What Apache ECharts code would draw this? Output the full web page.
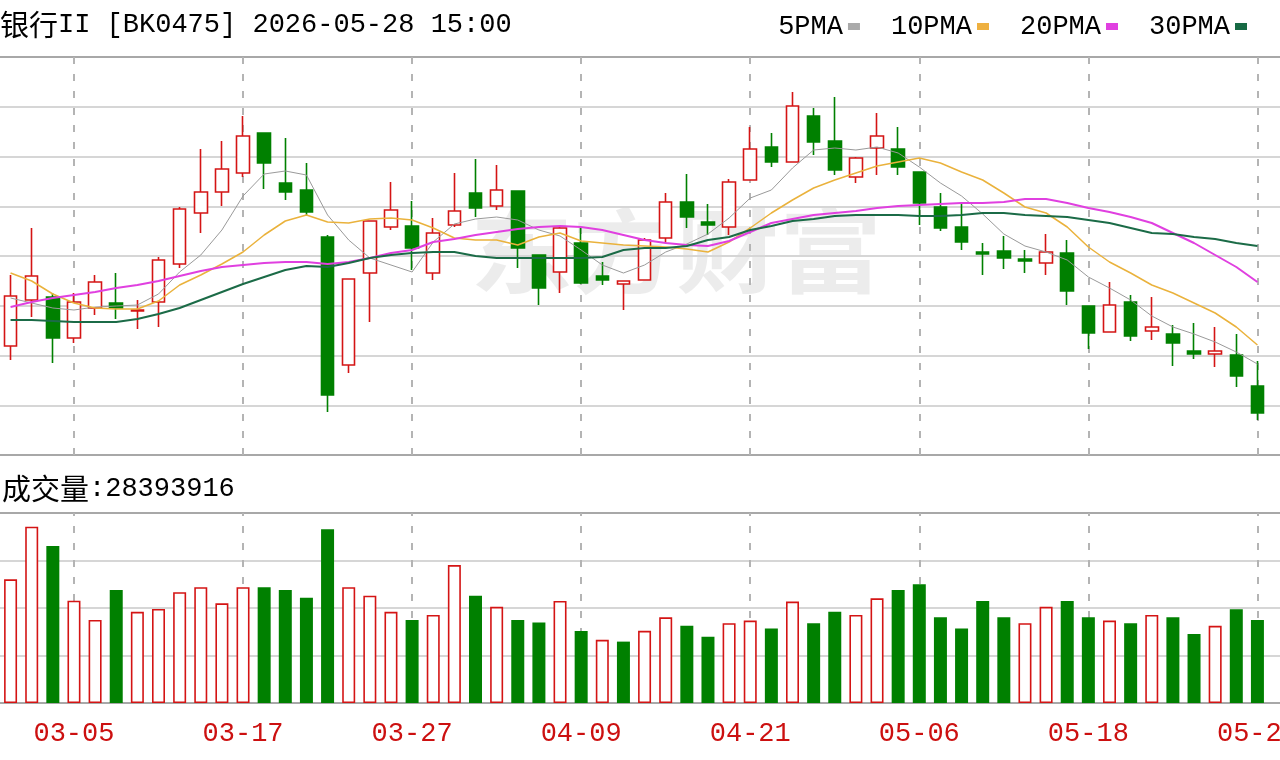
<!DOCTYPE html>
<html><head><meta charset="utf-8">
<script src="https://cdn.jsdelivr.net/npm/echarts@6/dist/echarts.min.js"></script>
<style>html,body{margin:0;padding:0;background:#fff}#c{width:1280px;height:760px}</style>
</head><body><div id="c"></div><script>
const dates = ['03-02','03-03','03-04','03-05','03-06','03-09','03-10','03-11','03-12','03-13',
'03-16','03-17','03-18','03-19','03-20','03-23','03-24','03-25','03-26','03-27',
'03-30','03-31','04-01','04-02','04-03','04-07','04-08','04-09','04-10','04-13',
'04-14','04-15','04-16','04-17','04-20','04-21','04-22','04-23','04-24','04-27',
'04-28','04-29','04-30','05-06','05-07','05-08','05-11','05-12','05-13','05-14',
'05-15','05-18','05-19','05-20','05-21','05-22','05-25','05-26','05-27','05-28'];
const tickDates = ['03-05','03-17','03-27','04-09','04-21','05-06','05-18','05-28'];
const openP = [1421.8,1431.0,1431.6,1423.4,1429.4,1430.4,1428.8,1430.6,1438.2,1448.4,
1452.6,1456.4,1464.4,1454.4,1453.0,1443.6,1418.0,1436.4,1445.6,1445.8,
1436.4,1446.0,1452.4,1449.8,1452.8,1440.0,1436.6,1442.4,1435.8,1434.2,
1435.0,1443.4,1450.6,1446.6,1445.6,1455.0,1461.6,1458.6,1467.8,1462.8,
1455.6,1461.4,1461.2,1456.6,1449.6,1445.6,1440.6,1440.8,1439.2,1438.4,
1440.4,1429.8,1424.6,1430.6,1424.8,1424.2,1420.8,1420.2,1420.0,1413.8];
const closeP = [1431.8,1435.8,1423.4,1430.6,1434.6,1429.4,1429.0,1439.0,1449.2,1452.6,
1457.2,1463.8,1458.4,1452.6,1448.6,1412.0,1435.2,1446.8,1449.0,1441.4,
1444.4,1448.8,1449.4,1453.0,1441.4,1433.4,1445.4,1434.4,1435.0,1434.8,
1443.0,1450.6,1447.6,1446.0,1454.6,1461.2,1458.6,1469.8,1462.6,1457.0,
1459.4,1463.8,1457.6,1450.4,1445.4,1442.6,1440.2,1439.4,1438.8,1440.6,
1432.8,1424.4,1430.0,1423.8,1425.6,1422.4,1420.2,1420.8,1415.8,1408.4];
const lowP = [1419.0,1427.6,1418.4,1422.4,1428.0,1427.2,1425.2,1425.6,1437.4,1444.4,
1449.8,1455.6,1453.2,1451.0,1448.0,1408.6,1416.4,1426.6,1445.0,1437.0,
1435.0,1445.6,1447.6,1449.0,1437.4,1430.0,1432.4,1434.2,1434.0,1429.0,
1435.0,1442.4,1445.4,1444.0,1444.0,1455.0,1457.6,1458.6,1460.0,1456.0,
1454.4,1456.0,1456.0,1446.0,1444.8,1441.0,1436.0,1437.2,1436.4,1436.0,
1430.0,1421.2,1424.6,1422.8,1423.0,1417.8,1419.2,1417.6,1413.6,1407.0];
const highP = [1436.0,1445.4,1432.4,1432.4,1436.0,1436.4,1431.0,1439.6,1449.6,1461.2,
1462.8,1467.8,1464.4,1463.4,1458.4,1444.0,1435.2,1446.8,1454.6,1450.8,
1447.4,1456.4,1459.2,1458.0,1452.8,1440.0,1445.6,1445.4,1438.6,1434.8,
1443.4,1452.4,1456.2,1450.2,1455.2,1465.6,1464.4,1472.6,1469.4,1471.6,
1459.6,1468.4,1465.6,1456.6,1452.4,1450.4,1442.4,1443.8,1441.0,1444.2,
1443.0,1429.8,1434.6,1432.0,1431.6,1426.0,1426.4,1425.6,1424.2,1418.8];
const volume = [42300000,60300000,53700000,35000000,28400000,38700000,31200000,32200000,37900000,39600000,
34100000,39600000,39600000,38700000,36000000,59400000,39600000,36700000,31200000,28400000,
30100000,47200000,36700000,32900000,28400000,27500000,34900000,24600000,21600000,21000000,
24700000,29300000,26400000,22700000,27300000,28200000,25500000,34700000,27300000,31200000,
30100000,35800000,38700000,40600000,29300000,25500000,34900000,29300000,27300000,32900000,
34900000,29300000,28200000,27300000,30100000,29300000,23600000,26400000,32100000,28393916];
const volUp = [1,1,0,1,1,0,1,1,1,1, 1,1,0,0,0,0,1,1,1,0, 1,1,0,1,0,0,1,0,1,0,
1,1,0,0,1,1,0,1,0,0, 1,1,0,0,0,0,0,0,1,1, 0,0,1,0,1,0,0,1,0,0];
const ma5 = [1431.4,1430.4,1429.4,1429.0,1429.6,1429.8,1430.0,1432.2,1436.6,1440.0,
1445.0,1451.8,1456.2,1456.8,1456.0,1448.0,1443.0,1439.4,1438.0,1436.6,
1442.6,1446.2,1447.2,1447.6,1447.0,1445.0,1443.8,1441.0,1438.0,1436.4,
1438.0,1440.6,1442.2,1444.2,1447.4,1451.4,1453.0,1457.4,1461.0,1461.4,
1461.0,1461.6,1460.4,1457.6,1454.4,1451.8,1448.2,1444.2,1441.8,1440.6,
1439.0,1435.6,1433.4,1431.0,1427.8,1425.6,1424.2,1422.6,1420.6,1418.2];
const ma10 = [1436.4,1434.8,1432.2,1430.4,1429.4,1429.2,1429.2,1430.8,1434.0,1436.0,
1438.2,1440.6,1444.0,1446.8,1448.0,1446.6,1446.4,1447.2,1447.4,1447.0,
1445.4,1443.4,1443.0,1443.0,1442.0,1443.6,1444.4,1442.8,1442.4,1442.0,
1441.8,1441.6,1441.2,1440.6,1442.6,1445.4,1448.4,1451.0,1453.4,1455.0,
1456.4,1457.8,1458.6,1459.4,1458.4,1456.6,1455.0,1452.4,1449.6,1448.4,
1445.6,1441.6,1438.6,1436.4,1434.0,1432.4,1430.4,1428.4,1425.6,1422.0];
const ma20 = [1429.6,1430.6,1431.4,1432.0,1432.6,1433.4,1434.0,1434.8,1435.8,1436.8,
1437.6,1438.0,1438.4,1438.6,1438.6,1438.2,1438.6,1439.4,1440.4,1441.0,
1442.6,1443.2,1444.0,1444.6,1445.2,1445.6,1445.8,1445.6,1445.0,1444.0,
1443.0,1442.4,1442.0,1441.8,1442.8,1444.6,1446.4,1447.2,1448.0,1448.4,
1448.8,1449.4,1449.8,1450.0,1450.2,1450.4,1450.4,1450.6,1451.2,1451.2,
1450.4,1449.4,1448.6,1447.6,1446.4,1444.4,1442.4,1440.0,1437.6,1434.6];
const ma30 = [1427.0,1427.0,1426.8,1426.6,1426.6,1426.6,1427.2,1428.2,1429.4,1431.0,
1432.6,1434.2,1435.6,1437.0,1437.8,1437.6,1438.4,1439.4,1440.0,1440.4,
1440.6,1440.6,1439.8,1439.4,1439.4,1439.4,1439.4,1439.4,1439.6,1441.0,
1441.4,1441.4,1441.8,1443.0,1443.6,1445.0,1445.8,1446.8,1447.2,1447.8,
1448.0,1448.0,1448.0,1447.8,1447.8,1448.0,1448.4,1448.4,1448.0,1447.8,
1447.6,1447.0,1446.4,1445.4,1444.4,1444.2,1443.6,1443.2,1442.4,1441.8];

const RED = '#d41414', GREEN = '#008000';
const MONO = 'Liberation Mono', CJK = 'Noto Sans CJK SC';
const candleData = dates.map((d, i) => [openP[i], closeP[i], lowP[i], highP[i]]);
const volData = volume.map((v, i) => ({
  value: v,
  itemStyle: volUp[i] ? { color: '#fff', borderColor: RED, borderWidth: 1.6 } : { color: GREEN, borderColor: GREEN, borderWidth: 0 }
}));
const dashLines = {
  silent: true, z: 1, symbol: ['none', 'none'], label: { show: false },
  lineStyle: { color: '#b4b4b4', type: [7, 10], width: 2 },
  emphasis: { disabled: true },
  data: tickDates.map(d => ({ xAxis: d }))
};
const sepCols = n => { const a = ['#a8a8a8']; for (let k = 1; k < n; k++) a.push('#d6d6d6'); return a; };
const rich = {
  cn: { fontFamily: CJK, fontSize: 29, fontWeight: 'normal', color: '#000' },
  en: { fontFamily: MONO, fontSize: 27, fontWeight: 'normal', color: '#000' }
};

const chart = echarts.init(document.getElementById('c'), null, { renderer: 'canvas' });
chart.setOption({
  animation: false,
  backgroundColor: '#fff',
  title: [
    { text: '{cn|银行}{en|II [BK0475] 2026-05-28 15:00}', left: 0, top: 10, padding: 0,
      textStyle: { fontWeight: 'normal', rich: rich } },
    { text: '{cn|成交量}{en|:28393916}', left: 2, top: 474, padding: 0,
      textStyle: { fontWeight: 'normal', rich: rich } }
  ],
  legend: {
    right: 33, top: 13, padding: 0, align: 'right', icon: 'rect', itemWidth: 12, itemHeight: 7, itemGap: 31,
    textStyle: { fontFamily: MONO, fontSize: 27, color: '#000' },
    data: ['5PMA', '10PMA', '20PMA', '30PMA']
  },
  graphic: [{
    type: 'text', left: 470, top: 205, z: 0, silent: true, scaleX: 1.12,
    style: { text: '东方财富', fontFamily: CJK, fontWeight: 'bold', fontSize: 92, fill: 'rgba(0,0,0,0.075)' }
  }],
  grid: [
    { left: 0, right: 12, top: 57, height: 398, outerBoundsMode: 'none', containLabel: false },
    { left: 0, right: 12, top: 513, height: 190, outerBoundsMode: 'none', containLabel: false },
    { left: 0, right: 0, top: 57, height: 398, outerBoundsMode: 'none', containLabel: false },
    { left: 0, right: 0, top: 513, height: 190, outerBoundsMode: 'none', containLabel: false }
  ],
  xAxis: [
    { type: 'category', gridIndex: 0, data: dates, boundaryGap: true, axisLine: { show: false }, axisTick: { show: false }, axisLabel: { show: false }, splitLine: { show: false } },
    { type: 'category', gridIndex: 1, data: dates, boundaryGap: true, axisLine: { show: false }, axisTick: { show: false }, splitLine: { show: false },
      axisLabel: { interval: (idx, val) => tickDates.includes(val), color: '#cc1010', fontFamily: MONO, fontSize: 27, margin: 17, showMaxLabel: true, hideOverlap: false } },
    { type: 'value', gridIndex: 2, min: 0, max: 1, show: false },
    { type: 'value', gridIndex: 3, min: 0, max: 1, show: false }
  ],
  yAxis: [
    { type: 'value', gridIndex: 0, min: 1400, max: 1479.6, show: false },
    { type: 'value', gridIndex: 1, min: 0, max: 65000000, show: false },
    { type: 'value', gridIndex: 2, min: 0, max: 8, interval: 1, axisLine: { show: false }, axisTick: { show: false }, axisLabel: { show: false },
      splitLine: { show: true, lineStyle: { color: sepCols(8), width: 2 } } },
    { type: 'value', gridIndex: 3, min: 0, max: 4, interval: 1, axisLine: { show: false }, axisTick: { show: false }, axisLabel: { show: false },
      splitLine: { show: true, lineStyle: { color: sepCols(4), width: 2 } } }
  ],
  series: [
    { name: 'K', type: 'candlestick', xAxisIndex: 0, yAxisIndex: 0, data: candleData, barWidth: 13,
      itemStyle: { color: '#fff', color0: GREEN, borderColor: RED, borderColor0: GREEN, borderWidth: 1.6 },
      markLine: dashLines },
    { name: '5PMA', type: 'line', xAxisIndex: 0, yAxisIndex: 0, data: ma5, showSymbol: false, symbol: 'none',
      lineStyle: { color: '#9a9a9a', width: 1 }, itemStyle: { color: '#aaaaaa' }, z: 3 },
    { name: '10PMA', type: 'line', xAxisIndex: 0, yAxisIndex: 0, data: ma10, showSymbol: false, symbol: 'none',
      lineStyle: { color: '#eab23c', width: 1.5 }, itemStyle: { color: '#eeb040' }, z: 3 },
    { name: '20PMA', type: 'line', xAxisIndex: 0, yAxisIndex: 0, data: ma20, showSymbol: false, symbol: 'none',
      lineStyle: { color: '#e040e0', width: 2 }, itemStyle: { color: '#e040e0' }, z: 3 },
    { name: '30PMA', type: 'line', xAxisIndex: 0, yAxisIndex: 0, data: ma30, showSymbol: false, symbol: 'none',
      lineStyle: { color: '#1b6b47', width: 2 }, itemStyle: { color: '#176a44' }, z: 3 },
    { name: 'VOL', type: 'bar', xAxisIndex: 1, yAxisIndex: 1, data: volData, barWidth: 13, markLine: dashLines }
  ]
});
</script></body></html>
